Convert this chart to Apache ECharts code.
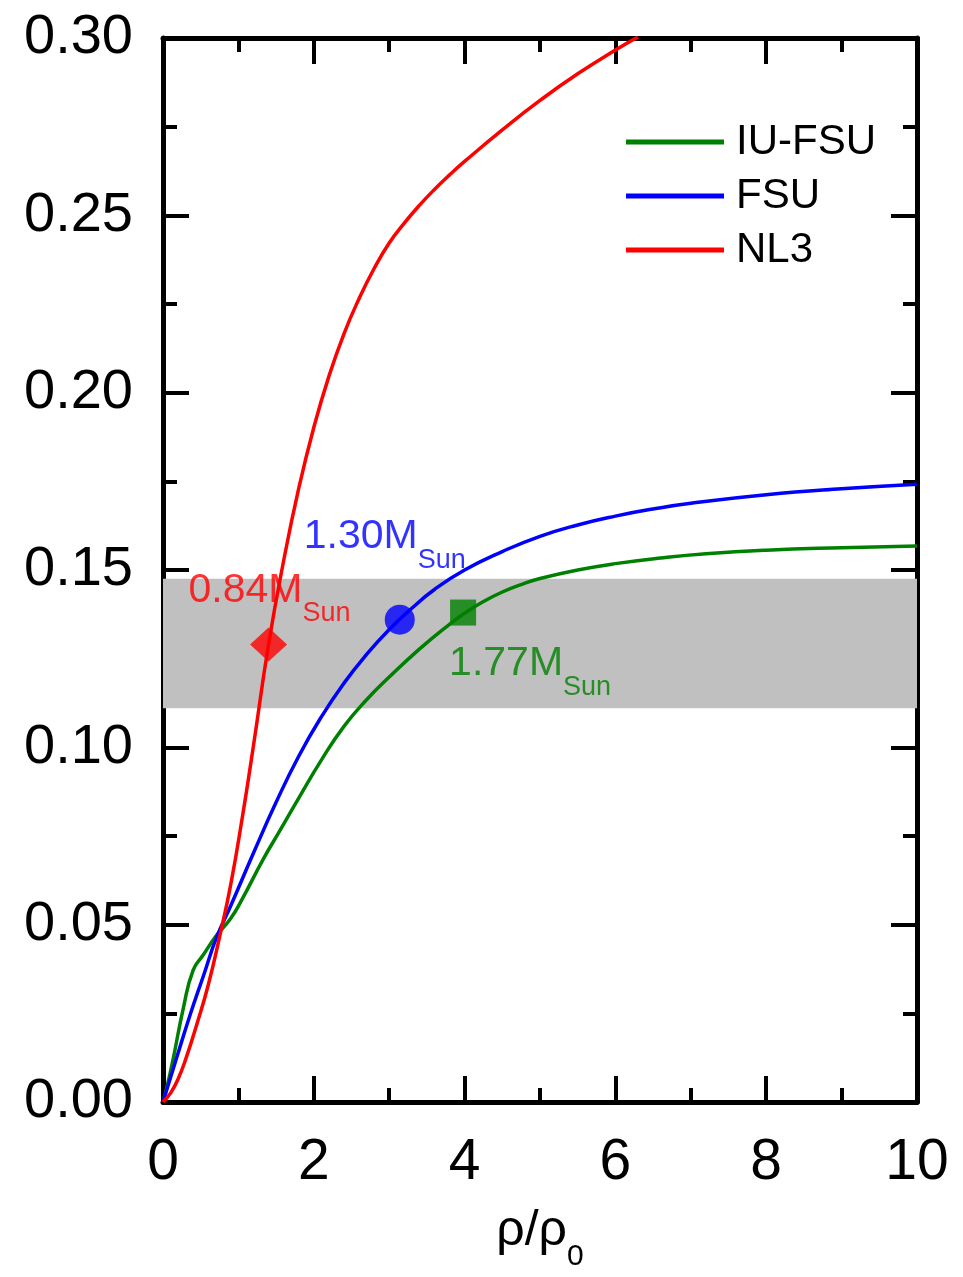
<!DOCTYPE html>
<html>
<head>
<meta charset="utf-8">
<script src="https://cdn.jsdelivr.net/npm/echarts@6/dist/echarts.min.js"></script>
<style>
  html, body { margin: 0; padding: 0; background: #ffffff; }
  #chart { width: 963px; height: 1277px; }
</style>
</head>
<body>
<div id="chart"></div>
<script>
// Symmetry-energy-like curves versus reduced density rho/rho0 for three parameter sets
const seriesNames = ['IU-FSU', 'FSU', 'NL3'];
const seriesColors = ['#008000', '#0000ff', '#ff0000'];

// [rho/rho0, value]
const iuFsuData = [
  [0, 0], [0.05, 0.004], [0.137, 0.0124], [0.27, 0.0265], [0.40, 0.0372], [0.535, 0.0415],
  [0.71, 0.047], [0.89, 0.0515], [1.05, 0.0572], [1.33, 0.0685], [1.55, 0.0765], [1.8, 0.0857],
  [2.1, 0.0964], [2.4, 0.1059], [2.7, 0.1134], [3.0, 0.1198], [3.4, 0.1277], [3.8, 0.1347],
  [4.0, 0.1378], [4.25, 0.1411], [4.5, 0.1438], [4.75, 0.1459], [5.0, 0.1476], [5.5, 0.150],
  [6.0, 0.1518], [6.6, 0.1534], [7.2, 0.1546], [8.0, 0.1556], [9.0, 0.1563], [10.0, 0.1568]
];
const fsuData = [
  [0, 0], [0.18, 0.0124], [0.36, 0.0246], [0.54, 0.0358], [0.71, 0.0464], [0.9, 0.0554],
  [1.2, 0.0702], [1.5, 0.0845], [1.8, 0.0975], [2.1, 0.1086], [2.4, 0.1181], [2.7, 0.1262],
  [3.0, 0.1332], [3.3, 0.1392], [3.6, 0.1445], [4.0, 0.150], [4.5, 0.1552], [5.0, 0.1595],
  [5.5, 0.1627], [6.0, 0.1652], [6.5, 0.1672], [7.0, 0.1688], [8.0, 0.1712], [9.0, 0.1729],
  [10.0, 0.1742]
];
const nl3Data = [
  [0, 0], [0.1, 0.0025], [0.2, 0.0065], [0.3, 0.012], [0.45, 0.022], [0.6, 0.033],
  [0.75, 0.0465], [0.9, 0.0615], [1.05, 0.080], [1.2, 0.1005], [1.4, 0.129], [1.6, 0.1526],
  [1.8, 0.173], [2.0, 0.1902], [2.2, 0.2046], [2.4, 0.2166], [2.6, 0.2265], [2.8, 0.235],
  [3.0, 0.2422], [3.2, 0.2478], [3.4, 0.2528], [3.6, 0.2573], [3.8, 0.2614], [4.0, 0.2652],
  [4.5, 0.2741], [5.0, 0.2824], [5.5, 0.2899], [6.0, 0.2966], [6.3, 0.3003]
];

// Highlighted points: [rho/rho0, value] and the stellar mass they correspond to
const nl3Point = [1.40, 0.129];
const fsuPoint = [3.14, 0.136];
const iuFsuPoint = [3.98, 0.138];
const pointMasses = ['0.84', '1.30', '1.77'];

// Shaded constraint band on the value axis
const bandRange = [0.111, 0.1475];

const FONT = '"Liberation Sans", Arial, Helvetica, sans-serif';
const BLACK = '#000000';

function massLabel(mass, color, offset) {
  return {
    show: true,
    position: 'inside',
    align: 'left',
    verticalAlign: 'top',
    offset: offset,
    formatter: '{m|' + mass + 'M}{s|Sun}',
    rich: {
      m: { fontSize: 41, lineHeight: 44, color: color, fontFamily: FONT, verticalAlign: 'top' },
      s: { fontSize: 27, lineHeight: 27, color: color, fontFamily: FONT, verticalAlign: 'top', padding: [30, 0, 0, 0] }
    }
  };
}

const tickStyle = { color: BLACK, width: 4 };
function frameAxis(extra) {
  return Object.assign({
    type: 'value',
    axisLine: { show: true, onZero: false, lineStyle: { color: BLACK, width: 5 } },
    axisTick: { show: true, inside: true, length: 26, lineStyle: tickStyle },
    minorTick: { show: true, splitNumber: 2, length: 14, lineStyle: tickStyle },
    splitLine: { show: false },
    minorSplitLine: { show: false }
  }, extra);
}

function curve(idx, data, extra) {
  return Object.assign({
    name: seriesNames[idx], type: 'line', data: data, smooth: 0.5, showSymbol: false,
    lineStyle: { color: seriesColors[idx], width: 3.5 }, itemStyle: { color: seriesColors[idx] },
    clip: true, silent: true, z: 3
  }, extra || {});
}

const chart = echarts.init(document.getElementById('chart'), null, { renderer: 'canvas' });

chart.setOption({
  animation: false,
  backgroundColor: '#ffffff',
  grid: { left: 163, right: 46, top: 38, bottom: 173, containLabel: false },
  legend: {
    data: seriesNames,
    orient: 'vertical',
    left: 621,
    top: 116,
    icon: 'rect',
    itemWidth: 98,
    itemHeight: 5,
    itemGap: 12,
    selectedMode: false,
    textStyle: { fontSize: 42, lineHeight: 42, color: BLACK, fontFamily: FONT, padding: [0, 0, 0, 7] }
  },
  xAxis: [
    frameAxis({
      position: 'bottom', min: 0, max: 10, interval: 2,
      axisLabel: { show: true, fontSize: 57, color: BLACK, margin: 33, fontFamily: FONT },
      name: '{a|ρ/ρ}{s|0}',
      nameLocation: 'middle',
      nameGap: 104,
      nameTextStyle: {
        rich: {
          a: { fontSize: 50, lineHeight: 54, color: BLACK, fontFamily: FONT, verticalAlign: 'top' },
          s: { fontSize: 30, lineHeight: 30, color: BLACK, fontFamily: FONT, verticalAlign: 'top', padding: [36, 0, 0, 0] }
        }
      }
    }),
    frameAxis({ position: 'top', min: 0, max: 10, interval: 2, axisLabel: { show: false } })
  ],
  yAxis: [
    frameAxis({
      position: 'left', min: 0, max: 0.3, interval: 0.05,
      axisLabel: { show: true, fontSize: 56, color: BLACK, margin: 30, fontFamily: FONT,
        formatter: function (v) { return v.toFixed(2); } }
    }),
    frameAxis({ position: 'right', min: 0, max: 0.3, interval: 0.05, axisLabel: { show: false } })
  ],
  series: [
    curve(0, iuFsuData, {
      markArea: {
        silent: true,
        itemStyle: { color: '#c0c0c0' },
        data: [[{ yAxis: bandRange[0] }, { yAxis: bandRange[1] }]]
      }
    }),
    curve(1, fsuData),
    curve(2, nl3Data),
    {
      name: 'NL3 point', type: 'scatter', data: [nl3Point], symbol: 'diamond', symbolSize: [37, 34],
      itemStyle: { color: seriesColors[2] }, silent: true, z: 4,
      label: massLabel(pointMasses[0], seriesColors[2], [-80, -74])
    },
    {
      name: 'FSU point', type: 'scatter', data: [fsuPoint], symbol: 'circle', symbolSize: 30,
      itemStyle: { color: seriesColors[1] }, silent: true, z: 4,
      label: massLabel(pointMasses[1], seriesColors[1], [-96, -103])
    },
    {
      name: 'IU-FSU point', type: 'scatter', data: [iuFsuPoint], symbol: 'rect', symbolSize: 26,
      itemStyle: { color: seriesColors[0] }, silent: true, z: 4,
      label: massLabel(pointMasses[2], seriesColors[0], [-14, 31])
    }
  ]
});
</script>
</body>
</html>
